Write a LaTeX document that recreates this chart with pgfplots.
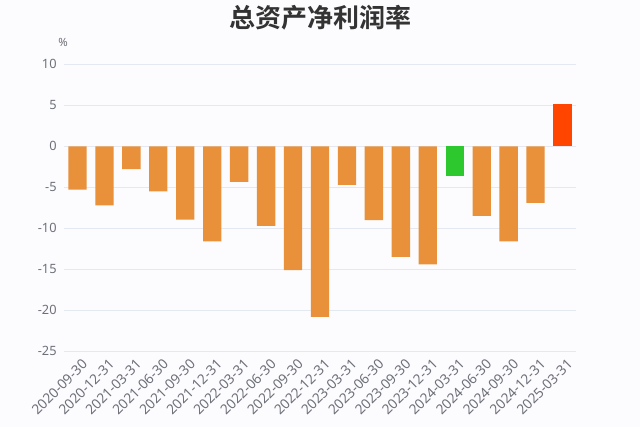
\documentclass[border=0pt]{standalone}
\usepackage{pgfplots}
\pgfplotsset{compat=1.18}
\usepackage{fontspec}
\setmainfont{Noto Sans}
\newfontfamily\cjk{Noto Sans CJK SC}[BoldFont={Noto Sans CJK SC Bold}]
\definecolor{bgc}{HTML}{FCFCFE}
\definecolor{gridc}{HTML}{E4E8F0}
\definecolor{tickc}{HTML}{6E7079}
\definecolor{barorange}{HTML}{E8913A}
\definecolor{bargreen}{HTML}{2DC82D}
\definecolor{barred}{HTML}{FF4500}
\begin{document}
\begin{tikzpicture}[x=0.75pt,y=0.75pt]
% canvas 640 x 427 px
\fill[bgc] (0,0) rectangle (640,427);
\node[font=\cjk\bfseries\fontsize{19.5}{22}\selectfont, text=black!80] at (320,409) {总资产净利润率};
\node[font=\fontsize{8.5}{10}\selectfont, text=tickc] at (63,385) {\%};
\begin{axis}[
  at={(48pt,56.8pt)}, anchor=south west,
  scale only axis,
  width=384pt, height=215.25pt,
  ybar, bar shift=0pt, bar width=0.68,
  xmin=-0.5, xmax=18.5,
  ymin=-25, ymax=10,
  ytick={-25,-20,...,10},
  xtick={0,...,18},
  xticklabels={2020-09-30,2020-12-31,2021-03-31,2021-06-30,2021-09-30,2021-12-31,2022-03-31,2022-06-30,2022-09-30,2022-12-31,2023-03-31,2023-06-30,2023-09-30,2023-12-31,2024-03-31,2024-06-30,2024-09-30,2024-12-31,2025-03-31},
  tick label style={font=\fontsize{9.6}{11}\selectfont, text=tickc},
  xticklabel style={font=\fontsize{10.3}{12}\selectfont, rotate=45, anchor=north east, inner sep=1pt, xshift=-0.5pt, yshift=-4.5pt},
  /pgf/number format/assume math mode=true,
  yticklabel style={xshift=-2pt},
  axis line style={draw=none},
  major tick length=0pt,
  ymajorgrids, grid style={gridc, line width=0.6pt},
]
\addplot[fill=barorange, draw=none] coordinates {
(0,-5.3)(1,-7.2)(2,-2.8)(3,-5.5)(4,-8.95)(5,-11.6)(6,-4.35)(7,-9.7)(8,-15.1)(9,-20.8)
(10,-4.7)(11,-9.0)(12,-13.5)(13,-14.4)(15,-8.5)(16,-11.6)(17,-6.9)};
\addplot[fill=bargreen, draw=none] coordinates {(14,-3.6)};
\addplot[fill=barred, draw=none] coordinates {(18,5.2)};
\end{axis}
\end{tikzpicture}
\end{document}
